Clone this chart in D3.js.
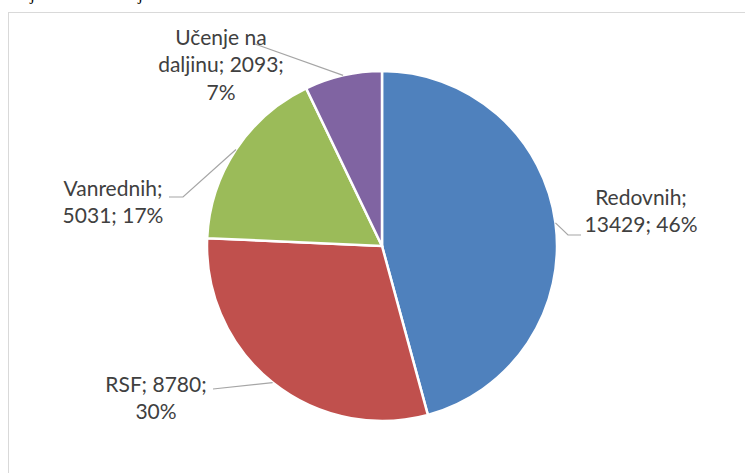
<!DOCTYPE html>
<html>
<head>
<meta charset="utf-8">
<script src="https://cdn.jsdelivr.net/npm/d3@7"></script>
<style>
  body { margin: 0; background: #fff; }
  svg { display: block; }
</style>
</head>
<body>
<script>
var categories = ["Redovnih", "RSF", "Vanrednih", "Učenje na daljinu"];
var values = [13429, 8780, 5031, 2093];
var colors = ["#4F81BD", "#C0504D", "#9BBB59", "#8064A2"];

// label lines as they wrap in the picture
var labelLines = [
  ["Redovnih;", "13429; 46%"],
  ["RSF; 8780;", "30%"],
  ["Vanrednih;", "5031; 17%"],
  ["Učenje na", "daljinu; 2093;", "7%"]
];

var svgWidth = 745;
var svgHeight = 473;

var svg = d3.select("body")
  .append("svg")
  .attr("width", svgWidth)
  .attr("height", svgHeight);

// bits of the document text above, cut off
svg.selectAll("text.cut")
  .data([30, 138])
  .enter()
  .append("text")
  .attr("x", d => d)
  .attr("y", 0)
  .style("font-family", "Liberation Serif")
  .style("font-size", "17px")
  .attr("fill", "#000")
  .text("j");

// chart frame
svg.append("rect")
  .attr("x", 8.5)
  .attr("y", 12.5)
  .attr("width", 800)
  .attr("height", 500)
  .attr("fill", "none")
  .attr("stroke", "#d9d9d9")
  .attr("stroke-width", 1);

var cx = 382, cy = 246, radius = 175;

var g = svg.append("g")
  .attr("transform", `translate(${cx}, ${cy})`);

var pieData = d3.pie().sort(null)(values);

var arc = d3.arc().innerRadius(0).outerRadius(radius);
var edge = d3.arc().innerRadius(radius).outerRadius(radius);

g.selectAll("path")
  .data(pieData)
  .enter()
  .append("path")
  .attr("d", arc)
  .attr("fill", (d, i) => colors[i])
  .attr("stroke", "#fff")
  .attr("stroke-width", 2.5);

// label placement (absolute) and elbow points of leader lines
var labelPos = [
  {x: 641, y: 205, elbow: [[568, 235], [581, 235]]},
  {x: 156, y: 392, elbow: [[213, 389]]},
  {x: 113, y: 196, elbow: [[183, 197], [169, 197]]},
  {x: 221, y: 45, elbow: [[255, 44]]}
];

var line = d3.line();

pieData.forEach(function(d, i) {
  var c = edge.centroid(d);
  var pts = [[c[0] + cx, c[1] + cy]].concat(labelPos[i].elbow);
  svg.append("path")
    .attr("d", line(pts))
    .attr("fill", "none")
    .attr("stroke", "#a6a6a6")
    .attr("stroke-width", 1.2);

  var t = svg.append("text")
    .attr("text-anchor", "middle")
    .style("font-family", "Lato")
    .style("font-size", "21px")
    .attr("fill", "#404040");
  t.selectAll("tspan")
    .data(labelLines[i])
    .enter()
    .append("tspan")
    .attr("x", labelPos[i].x)
    .attr("y", (s, j) => labelPos[i].y + j * 27.3)
    .text(s => s);
});
</script>
</body>
</html>
